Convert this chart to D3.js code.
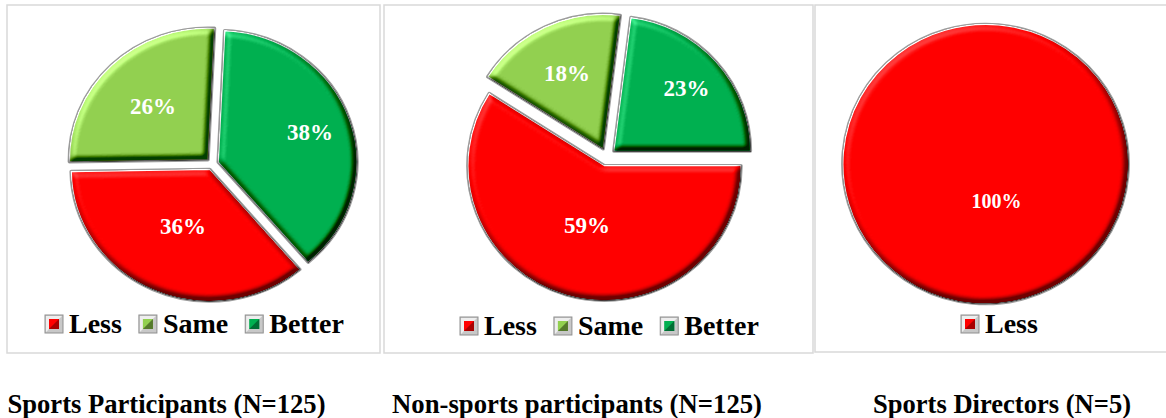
<!DOCTYPE html>
<html><head><meta charset="utf-8">
<script src="https://cdn.jsdelivr.net/npm/d3@7"></script>
<style>html,body{margin:0;padding:0;background:#fff;} svg{display:block}</style>
</head><body>
<svg id="chart" width="1166" height="418"></svg>
<script>
// ---- data ----
const categories = ["Less", "Same", "Better"];
const chartTitles = ["Sports Participants (N=125)", "Non-sports participants (N=125)", "Sports Directors (N=5)"];
const sportsParticipants = [36, 26, 38];
const nonSportsParticipants = [59, 18, 23];
const sportsDirectors = [100];
const seriesList = [sportsParticipants, nonSportsParticipants, sportsDirectors];

// ---- style / layout ----
const colors = {Less: "#ff0000", Same: "#92d050", Better: "#00b050"};
const darkColors = {Less: "#a80000", Same: "#557a2c", Better: "#006e34"};
const FONT = "'Times New Roman', 'Liberation Serif', serif";
const layout = [
  {panel: [7, 5, 373, 348], cx: 212.3, cy: 164, r: 131.5, sx: 1.053, explode: 6, start: 139.5, labelF: [0.47, 0.57, 0.70], labelSize: 23, legendX: 45, legendY: 333, titleX: 166.5, titleW: 318},
  {panel: [384, 5, 429, 348], cx: 607, cy: 157, r: 134.5, sx: 1.015, explode: 9, start: 90, labelF: [0.46, 0.62, 0.71], labelSize: 23, legendX: 460, legendY: 335, titleX: 577, titleW: 370},
  {panel: [815, 5, 370, 347], cx: 985.5, cy: 164, r: 139.5, sx: 1.02, explode: 0, start: 343.5, labelF: [0.273], labelSize: 20, legendX: 961, legendY: 333, titleX: 1002, titleW: 258}
];

const svg = d3.select("#chart");
const defs = svg.append("defs");

// bevel filter (lighting on blurred alpha)
const f = defs.append("filter").attr("id", "bevel")
  .attr("x", "-5%").attr("y", "-5%").attr("width", "110%").attr("height", "110%")
  .attr("color-interpolation-filters", "sRGB");
f.append("feGaussianBlur").attr("in", "SourceAlpha").attr("stdDeviation", 3).attr("result", "blur");
const dl = f.append("feDiffuseLighting").attr("in", "blur").attr("surfaceScale", 9)
  .attr("diffuseConstant", 1).attr("lighting-color", "#ffffff").attr("result", "light");
dl.append("feDistantLight").attr("azimuth", 235).attr("elevation", 45);
f.append("feComposite").attr("in", "SourceGraphic").attr("in2", "light").attr("operator", "arithmetic")
  .attr("k1", 0).attr("k2", 1).attr("k3", 0.8).attr("k4", -0.566).attr("result", "lit");
f.append("feComposite").attr("in", "lit").attr("in2", "SourceAlpha").attr("operator", "in");

const deg = Math.PI / 180;

seriesList.forEach((values, ci) => {
  const L = layout[ci];
  const cats = categories.slice(0, values.length);
  const data = values.map((v, i) => ({cat: cats[i], value: v, idx: i}));

  // panel border
  svg.append("rect")
    .attr("x", L.panel[0]).attr("y", L.panel[1])
    .attr("width", L.panel[2]).attr("height", L.panel[3])
    .attr("fill", "none").attr("stroke", "#d9d9d9").attr("stroke-width", 1.5);

  const pie = d3.pie().value(d => d.value).sort(null)
    .startAngle(L.start * deg).endAngle(L.start * deg + 2 * Math.PI);
  const arcs = pie(data);
  const arc = d3.arc().innerRadius(0).outerRadius(L.r);

  const g = svg.append("g").attr("transform", `translate(${L.cx},${L.cy}) scale(${L.sx},1)`);
  const labels = svg.append("g");

  arcs.forEach(a => {
    const mid = (a.startAngle + a.endAngle) / 2;
    const e = arcs.length > 1 ? L.explode : 0;
    const ox = Math.sin(mid) * e, oy = -Math.cos(mid) * e;
    const sg = g.append("g").attr("transform", `translate(${ox},${oy})`);
    // outer silver border
    sg.append("path").attr("d", arc(a))
      .attr("fill", "#c4c4c4").attr("stroke", "#9c9c9c").attr("stroke-width", 3.5)
      .attr("stroke-linejoin", "round");
    sg.append("path").attr("d", arc(a))
      .attr("fill", colors[a.data.cat]).attr("stroke", "#f0f0f0").attr("stroke-width", 1.2)
      .attr("filter", "url(#bevel)");
    // label (unscaled text, scaled position)
    const lf = L.labelF[a.data.idx] * L.r;
    labels.append("text")
      .attr("x", L.cx + L.sx * (ox + Math.sin(mid) * lf))
      .attr("y", L.cy + oy - Math.cos(mid) * lf)
      .attr("dy", "0.35em")
      .attr("text-anchor", "middle")
      .attr("font-family", FONT).attr("font-weight", "bold")
      .attr("font-size", L.labelSize).attr("fill", "#ffffff")
      .text(a.data.value + "%");
  });

  // legend
  const lg = svg.append("g");
  let x = L.legendX;
  const ms = 18;
  cats.forEach(c => {
    const my = L.legendY - 18;
    const mg = lg.append("g").attr("transform", `translate(${x},${my})`);
    mg.append("rect").attr("width", ms).attr("height", ms).attr("fill", "#c8c8c8").attr("stroke", "#8f8f8f").attr("stroke-width", 1);
    mg.append("path").attr("d", `M1,1 L${ms-1},1 L${ms-4},4 L4,4 L4,${ms-4} L1,${ms-1} Z`).attr("fill", "#eeeeee");
    mg.append("rect").attr("x", 4).attr("y", 4).attr("width", ms - 8).attr("height", ms - 8).attr("fill", colors[c]);
    mg.append("path").attr("d", `M4,${ms-4} L${ms-4},4 L${ms-4},${ms-4} Z`).attr("fill", darkColors[c]);
    const t = lg.append("text")
      .attr("x", x + 24).attr("y", L.legendY)
      .attr("font-family", FONT).attr("font-weight", "bold").attr("font-size", 28)
      .attr("fill", "#000").text(c);
    x = x + 24 + t.node().getComputedTextLength() + 17;
  });

  // title
  svg.append("text")
    .attr("x", L.titleX).attr("y", 413)
    .attr("text-anchor", "middle")
    .attr("font-family", FONT).attr("font-weight", "bold").attr("font-size", 27)
    .attr("textLength", L.titleW).attr("lengthAdjust", "spacingAndGlyphs")
    .attr("fill", "#000").text(chartTitles[ci]);
});
</script>
</body></html>
